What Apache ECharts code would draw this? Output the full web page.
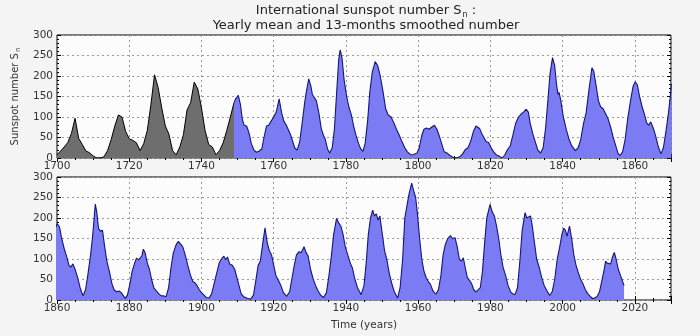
<!DOCTYPE html>
<html><head><meta charset="utf-8">
<script src="https://cdn.jsdelivr.net/npm/echarts@6/dist/echarts.min.js"></script>
<style>html,body{margin:0;padding:0;background:#f4f4f4}#c{width:700px;height:336px}</style>
</head><body><div id="c"></div>
<script>
// Yearly mean sunspot number 1700-1749 (gray)
const yearlyStart = 1700;
const yearlyValues = [8,17,27,38,60,97,48,33,17,13,5,0,0,3,18,45,78,105,100,65,47,43,37,18,35,67,130,203,172,122,78,58,18,8,27,57,117,135,185,168,122,67,33,27,8,18,37,67,100,135];

// 13-month smoothed number 1749-2017 (blue)
const smoothedYears = [
1749.0,1749.5,1750.2,1750.8,1751.3,1751.8,1752.5,1753.2,1753.8,1754.5,1755.2,1756.0,1756.7,1757.3,1758.0,1758.6,1759.3,1760.0,1760.7,1761.5,
1762.2,1762.8,1763.5,1764.0,1764.6,1765.2,1765.8,1766.5,1767.2,1767.8,1768.5,1769.0,1769.7,1770.3,1770.7,1771.2,1771.8,1772.5,1773.2,1773.8,
1774.3,1774.9,1775.5,1776.2,1776.8,1777.5,1778.0,1778.4,1778.9,1779.5,1780.2,1780.8,1781.5,1782.2,1782.8,1783.5,1784.1,1784.7,1785.3,1786.0,
1786.6,1787.3,1788.1,1788.8,1789.5,1790.3,1791.0,1791.7,1792.5,1793.3,1794.0,1794.8,1795.5,1796.3,1797.0,1797.7,1798.3,1799.0,1799.7,1800.3,
1801.0,1801.6,1802.3,1803.0,1803.7,1804.5,1805.2,1805.8,1806.5,1807.2,1808.0,1808.8,1809.6,1810.6,1811.5,1812.3,1813.0,1813.8,1814.5,1815.3,
1816.0,1816.4,1817.0,1817.6,1818.2,1818.8,1819.5,1820.2,1820.9,1821.6,1822.5,1823.3,1824.0,1824.7,1825.5,1826.2,1827.0,1827.8,1828.6,1829.3,
1829.9,1830.5,1831.0,1831.7,1832.4,1833.1,1833.9,1834.6,1835.3,1836.0,1836.5,1837.2,1837.8,1838.3,1838.7,1839.0,1839.5,1840.2,1841.0,1841.8,
1842.5,1843.5,1844.3,1845.0,1845.8,1846.5,1847.2,1847.8,1848.1,1848.6,1849.2,1849.9,1850.5,1851.2,1851.9,1852.6,1853.3,1854.0,1854.7,1855.3,
1855.9,1856.6,1857.3,1858.0,1858.8,1859.5,1860.1,1860.7,1861.3,1862.0,1862.7,1863.3,1863.8,1864.4,1865.0,1865.7,1866.4,1867.2,1867.9,1868.6,
1869.3,1869.8,1870.1,1870.6,1871.0,1871.5,1872.0,1872.6,1873.2,1873.8,1874.5,1875.2,1875.8,1876.5,1877.2,1877.8,1878.4,1878.9,1879.5,1880.2,
1880.8,1881.5,1882.0,1882.6,1883.0,1883.5,1883.9,1884.4,1885.0,1885.6,1886.2,1886.8,1887.5,1888.2,1888.9,1889.6,1890.2,1890.9,1891.5,1892.2,
1893.0,1893.6,1894.1,1894.8,1895.5,1896.2,1896.9,1897.6,1898.2,1898.8,1899.4,1900.0,1900.7,1901.4,1902.1,1902.8,1903.5,1904.2,1904.9,1905.5,
1906.2,1906.7,1907.2,1907.8,1908.5,1909.2,1909.8,1910.4,1911.0,1911.7,1912.5,1913.6,1914.4,1915.0,1915.7,1916.3,1917.0,1917.6,1918.2,1918.8,
1919.4,1920.0,1920.6,1921.3,1922.0,1922.7,1923.6,1924.4,1925.0,1925.7,1926.3,1927.0,1927.6,1928.4,1929.0,1929.5,1930.2,1930.9,1931.6,1932.3,
1933.0,1933.8,1934.6,1935.3,1936.0,1936.6,1937.4,1938.0,1938.6,1939.2,1939.8,1940.5,1941.2,1941.8,1942.5,1943.2,1944.2,1945.0,1945.6,1946.2,
1946.8,1947.4,1947.9,1948.4,1948.9,1949.4,1950.0,1950.7,1951.3,1952.0,1952.7,1953.4,1954.3,1955.0,1955.7,1956.3,1956.9,1957.5,1958.2,1958.8,
1959.3,1959.8,1960.4,1961.0,1961.6,1962.2,1962.8,1963.4,1964.1,1964.9,1965.6,1966.3,1966.9,1967.5,1968.2,1968.9,1969.5,1970.2,1970.8,1971.4,
1972.0,1972.5,1973.0,1973.6,1974.2,1974.8,1975.4,1976.0,1976.5,1977.2,1977.8,1978.4,1979.0,1979.9,1980.5,1981.1,1981.7,1982.3,1982.9,1983.5,
1984.2,1984.9,1985.6,1986.2,1986.8,1987.5,1988.2,1988.8,1989.6,1990.1,1990.6,1991.1,1991.6,1992.2,1992.8,1993.5,1994.2,1994.9,1995.7,1996.4,
1997.1,1997.8,1998.5,1999.2,1999.8,2000.3,2000.8,2001.2,2001.9,2002.5,2003.1,2003.7,2004.4,2005.0,2005.6,2006.3,2007.0,2007.7,2008.4,2008.9,
2009.5,2010.2,2010.8,2011.4,2011.9,2012.3,2012.8,2013.3,2013.8,2014.3,2014.8,2015.4,2016.0,2016.6,2017.0];
const smoothedValues = [
135,145,153,130,95,80,78,60,35,20,14,17,22,50,78,80,90,100,112,144,
110,90,80,78,58,42,25,19,40,80,130,160,193,175,155,157,140,110,70,55,
45,22,12,25,70,170,240,264,245,190,150,125,105,75,55,35,22,16,35,90,
160,210,235,225,200,160,120,105,100,85,70,55,40,25,15,10,7,10,12,25,
55,70,73,70,75,80,70,55,35,15,12,6,2,0,3,10,20,25,40,65,
78,81,72,60,50,40,38,25,15,8,4,0,8,20,30,55,85,100,108,113,
119,112,85,60,40,20,12,25,75,150,205,245,225,180,155,160,140,100,70,45,
30,18,25,45,85,110,160,200,220,212,180,140,125,120,108,95,75,50,30,12,
6,15,45,95,140,175,186,178,150,125,105,85,80,88,75,55,30,10,25,65,
110,150,180,234,215,175,168,170,130,95,70,40,25,20,22,18,10,4,12,40,
70,90,102,98,95,108,124,115,90,75,50,30,22,15,10,10,8,30,75,115,
135,143,146,130,110,85,62,45,42,35,25,18,12,6,5,15,40,65,90,100,
107,98,105,88,85,75,55,35,15,8,5,2,12,45,85,95,140,176,140,120,
110,85,60,48,35,18,9,20,50,85,110,118,115,130,115,108,75,52,35,22,
12,6,18,60,110,160,199,188,180,160,130,110,90,78,50,30,13,35,90,160,
200,219,205,210,195,205,165,120,100,65,40,20,5,30,100,200,230,260,285,265,
250,210,150,100,70,55,45,38,22,14,25,60,110,135,150,157,150,152,130,100,
95,103,80,55,48,40,25,20,18,30,70,140,200,233,215,205,180,150,110,80,
60,35,20,15,13,30,100,170,213,200,198,205,180,140,100,80,55,35,22,11,
20,50,100,130,160,175,170,155,180,150,110,85,65,50,40,25,15,8,3,2,
8,20,45,70,95,90,87,88,105,116,100,75,60,45,35];

const yTicks = {min: 0, max: 300, interval: 50};
const topRange = {min: 1700, max: 1870};
const bottomRange = {min: 1860, max: 2030};

const yearlyData = yearlyValues.map((v, i) => [yearlyStart + i, v]);
const smoothedData = smoothedYears.map((t, i) => [t, smoothedValues[i]]);
const smoothedTop = smoothedData.filter(p => p[0] <= topRange.max + 0.2);
const smoothedBottom = smoothedData.filter(p => p[0] >= bottomRange.min - 0.7);

const FONT = 'DejaVu Sans';
const labelStyle = {color: '#333', fontSize: 10.5, fontFamily: FONT};
const grids = [
  {left: 57, right: 29, top: 35, height: 123, show: true, backgroundColor: '#fcfcfc', borderColor: '#000', borderWidth: 1},
  {left: 57, right: 29, top: 177, height: 123, show: true, backgroundColor: '#fcfcfc', borderColor: '#000', borderWidth: 1}
];
function xAx(g, r, pos, labels, name) {
  return {
    type: 'value', gridIndex: g, min: r.min, max: r.max, interval: 20, position: pos,
    axisLine: {show: false},
    axisTick: {show: true, inside: true, length: 4, lineStyle: {color: '#000'}},
    minorTick: {show: true, splitNumber: 4, length: 2, lineStyle: {color: '#000'}},
    axisLabel: Object.assign({show: labels, margin: 3, showMaxLabel: false, formatter: v => String(v)}, labelStyle),
    splitLine: {show: labels, lineStyle: {type: [2, 3], color: '#9a9a9a', width: 1}},
    name: name || '', nameLocation: 'middle', nameGap: 20,
    nameTextStyle: {color: '#333', fontSize: 10.5, fontFamily: FONT}
  };
}
function yAx(g, pos, labels, name) {
  return {
    type: 'value', gridIndex: g, min: yTicks.min, max: yTicks.max, interval: yTicks.interval, position: pos,
    axisLine: {show: false},
    axisTick: {show: true, inside: true, length: 4, lineStyle: {color: '#000'}},
    minorTick: {show: true, splitNumber: 5, length: 2, lineStyle: {color: '#000'}},
    axisLabel: Object.assign({show: labels, margin: 4, formatter: v => String(v)}, labelStyle),
    splitLine: {show: labels, lineStyle: {type: [2, 3], color: '#9a9a9a', width: 1}},
    name: name || '', nameLocation: 'middle', nameGap: 28, nameRotate: 90,
    nameTextStyle: {color: '#333', fontSize: 10, fontFamily: FONT,
      rich: {sub: {fontSize: 7, color: '#333', fontFamily: FONT, padding: [6, 0, 0, 1]}}}
  };
}
const blueFill = '#7b7bf3', blueLine = '#14147e';
const option = {
  backgroundColor: '#f4f4f4',
  animation: false,
  title: {
    text: 'International sunspot number S{sub|n} :\nYearly mean and 13-months smoothed number',
    left: 366, top: 3, padding: 0, textAlign: 'center',
    textStyle: {color: '#222', fontSize: 13, fontWeight: 'normal', fontFamily: FONT, lineHeight: 15,
      rich: {sub: {fontSize: 8, color: '#222', fontFamily: FONT, padding: [8, 0, 0, 1]}}}
  },
  grid: grids,
  xAxis: [xAx(0, topRange, 'bottom', true), xAx(0, topRange, 'top', false),
          xAx(1, bottomRange, 'bottom', true, 'Time (years)'), xAx(1, bottomRange, 'top', false)],
  yAxis: [yAx(0, 'left', true, 'Sunspot number S{sub|n}'), yAx(0, 'right', false),
          yAx(1, 'left', true), yAx(1, 'right', false)],
  series: [
    {type: 'line', xAxisIndex: 0, yAxisIndex: 0, data: yearlyData, symbol: 'none',
     lineStyle: {color: '#000', width: 1}, areaStyle: {color: '#6e6e6e', opacity: 1}, z: 3},
    {type: 'line', xAxisIndex: 0, yAxisIndex: 0, data: smoothedTop, symbol: 'none', clip: true,
     lineStyle: {color: blueLine, width: 1.1}, areaStyle: {color: blueFill, opacity: 1}, z: 3},
    {type: 'line', xAxisIndex: 2, yAxisIndex: 2, data: smoothedBottom, symbol: 'none', clip: true,
     lineStyle: {color: blueLine, width: 1.1}, areaStyle: {color: blueFill, opacity: 1}, z: 3}
  ]
};
const chart = echarts.init(document.getElementById('c'), null, {renderer: 'canvas'});
chart.setOption(option);
</script></body></html>
